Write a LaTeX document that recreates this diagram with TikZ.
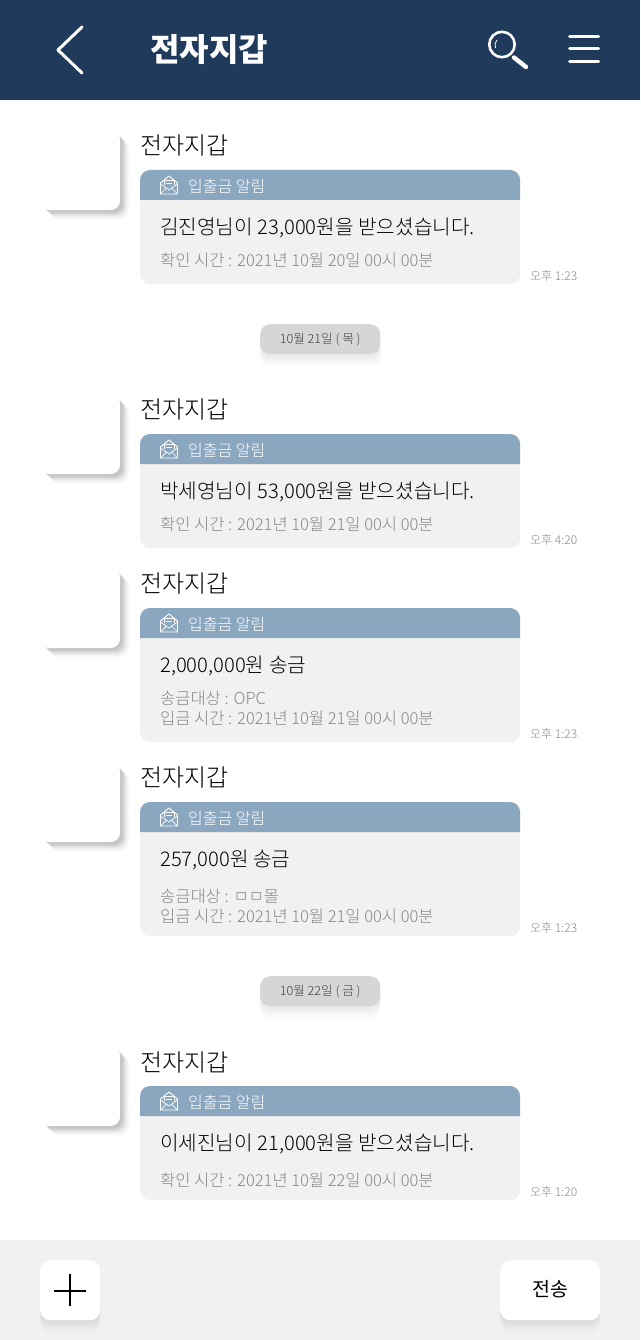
\documentclass[tikz,border=0pt]{standalone}
\usepackage{fontspec}
\usetikzlibrary{shadows}
\setmainfont{Noto Sans CJK KR}
\newfontfamily\krlight{Noto Sans CJK KR Light}
\definecolor{barblue}{RGB}{32,58,92}
\definecolor{headblue}{RGB}{139,167,192}
\definecolor{cardgray}{RGB}{241,241,241}
\definecolor{pillgray}{RGB}{214,214,214}
\definecolor{detailgray}{RGB}{135,135,135}
\tikzset{
  avatarbox/.style={fill=white,rounded corners=10pt,minimum width=80pt,minimum height=80pt,inner sep=0pt,anchor=north west,
    general shadow={fill=black,opacity=.008,shadow xshift=10pt,shadow yshift=-10pt},
    general shadow={fill=black,opacity=.012,shadow xshift=9pt,shadow yshift=-9pt},
    general shadow={fill=black,opacity=.018,shadow xshift=8pt,shadow yshift=-8pt},
    general shadow={fill=black,opacity=.025,shadow xshift=7pt,shadow yshift=-7pt},
    general shadow={fill=black,opacity=.03,shadow xshift=6pt,shadow yshift=-6pt},
    general shadow={fill=black,opacity=.035,shadow xshift=5pt,shadow yshift=-5pt},
    general shadow={fill=black,opacity=.04,shadow xshift=4pt,shadow yshift=-4pt},
    general shadow={fill=black,opacity=.04,shadow xshift=3pt,shadow yshift=-3pt},
    general shadow={fill=black,opacity=.04,shadow xshift=2pt,shadow yshift=-2pt}},
  softbox/.style={rounded corners=10pt,inner sep=0pt,anchor=north west,
    general shadow={fill=black,opacity=.006,shadow yshift=-13pt,shadow scale=1.01},
    general shadow={fill=black,opacity=.01,shadow yshift=-11pt,shadow scale=1.01},
    general shadow={fill=black,opacity=.012,shadow yshift=-9pt},
    general shadow={fill=black,opacity=.014,shadow yshift=-7pt},
    general shadow={fill=black,opacity=.016,shadow yshift=-5pt},
    general shadow={fill=black,opacity=.016,shadow yshift=-3pt}},
  cardbody/.style={fill=cardgray,rounded corners=10pt,minimum width=380pt,inner sep=0pt,anchor=north west},
  sendertext/.style={anchor=west,inner sep=0pt,font=\krlight\fontsize{24}{24}\selectfont},
  headtext/.style={anchor=west,inner sep=0pt,text=white,font=\krlight\fontsize{16}{16}\selectfont},
  maintext/.style={anchor=west,inner sep=0pt,font=\krlight\fontsize{20.2}{20.2}\selectfont},
  detailtext/.style={anchor=west,inner sep=0pt,text=detailgray,font=\krlight\fontsize{16.5}{16.5}\selectfont},
  timetext/.style={anchor=west,inner sep=0pt,text=detailgray,font=\krlight\fontsize{12}{12}\selectfont},
  datetext/.style={inner sep=0pt,text=black!75,font=\krlight\fontsize{12.6}{12.6}\selectfont},
  iconline/.style={draw=white,line width=.9pt,line join=round}
}
% #1 name, #2 top of blue header, #3 body height, #4 y of the main line, #5 main line, #6 time
\newcommand{\walletcard}[6]{
  \node[avatarbox] (avatar#1) at (40,#2-40) {};
  \node[sendertext] (sender#1) at (140,#2-24) {전자지갑};
  \node[cardbody,minimum height=#3 pt] (body#1) at (140,#2) {};
  \fill[headblue] (140,#2+30) [rounded corners=10pt] -- (140,#2) -- (520,#2) [sharp corners] -- (520,#2+30) -- cycle;
  % envelope
  \draw[iconline] (160.5,#2+13) -- (169,#2+6) -- (177.5,#2+13) -- (177.5,#2+24) -- (160.5,#2+24) -- cycle;
  \draw[iconline,line width=.7pt] (160.5,#2+14) -- (169,#2+20) -- (177.5,#2+14) (160.5,#2+24) -- (166.5,#2+18) (177.5,#2+24) -- (171.5,#2+18);
  \draw[iconline,line width=.7pt] (164,#2+15) -- (164,#2+10.5) -- (174,#2+10.5) -- (174,#2+15) (166,#2+13) -- (172,#2+13);
  \node[headtext] (head#1) at (188,#2+16) {입출금 알림};
  \node[maintext] (main#1) at (160,#4) {#5};
  \node[timetext] (time#1) at (530,#2+#3-8) {#6};
}
\begin{document}
\begin{tikzpicture}[x=1pt,y=-1pt]
\useasboundingbox (0,0) rectangle (640,1340);
\fill[white] (0,0) rectangle (640,1340);
% top bar
\fill[barblue] (0,0) rectangle (640,100);
\draw[white,line width=3pt,line cap=round,line join=round] (82,27) -- (58,50) -- (82,73);
\node[anchor=west,inner sep=0pt,text=white,font=\bfseries\fontsize{32}{32}\selectfont] (apptitle) at (150,50) {전자지갑};
\draw[white,line width=2.6pt] (502,44.5) circle (12.7);
\draw[white,line width=4.4pt,line cap=round] (514,57.5) -- (526,67);
\draw[white,line width=.8pt] (495.5,48) .. controls (494.5,45) and (495,42) .. (497,40);
\foreach \y in {36.7,48.9,61.3}
  \draw[white,line width=3pt,line cap=round] (569.5,\y) -- (598.5,\y);
% messages
\walletcard{a}{170}{114}{227.5}{김진영님이 23,000원을 받으셨습니다.}{오후 1:23}
\node[detailtext] (detaila) at (160,260) {확인 시간 : 2021년 10월 20일 00시 00분};
\node[softbox,fill=pillgray,minimum width=120pt,minimum height=30pt] (datea) at (260,324) {};
\node[datetext] at (datea.center) {10월 21일 ( 목 )};
\walletcard{b}{434}{114}{491.5}{박세영님이 53,000원을 받으셨습니다.}{오후 4:20}
\node[detailtext] (detailb) at (160,524) {확인 시간 : 2021년 10월 21일 00시 00분};
\walletcard{c}{608}{134}{665.5}{2,000,000원 송금}{오후 1:23}
\node[detailtext] (targetc) at (160,698) {송금대상 : OPC};
\node[detailtext] (detailc) at (160,718) {입금 시간 : 2021년 10월 21일 00시 00분};
\walletcard{d}{802}{134}{859.5}{257,000원 송금}{오후 1:23}
\node[detailtext] (targetd) at (160,896) {송금대상 : ㅁㅁ몰};
\node[detailtext] (detaild) at (160,916) {입금 시간 : 2021년 10월 21일 00시 00분};
\node[softbox,fill=pillgray,minimum width=120pt,minimum height=30pt] (dateb) at (260,976) {};
\node[datetext] at (dateb.center) {10월 22일 ( 금 )};
\walletcard{e}{1086}{114}{1143.5}{이세진님이 21,000원을 받으셨습니다.}{오후 1:20}
\node[detailtext] (detaile) at (160,1180) {확인 시간 : 2021년 10월 22일 00시 00분};
% bottom bar
\fill[cardgray] (0,1240) rectangle (640,1340);
\draw[black!8,line width=1pt] (0,1240.5) -- (640,1240.5);
\node[softbox,fill=white,minimum width=60pt,minimum height=60pt] (plusbtn) at (40,1260) {};
\draw[black,line width=2pt] (54,1291) -- (86,1291) (70,1274) -- (70,1306);
\node[softbox,fill=white,minimum width=100pt,minimum height=60pt] (sendbtn) at (500,1260) {};
\node[inner sep=0pt,font=\fontsize{19.5}{19.5}\selectfont] at (550,1289) {전송};
\end{tikzpicture}
\end{document}
